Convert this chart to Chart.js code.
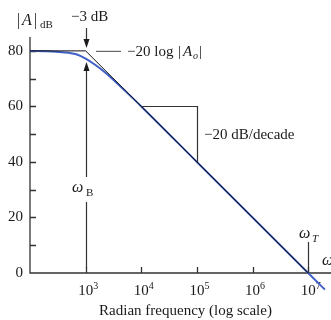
<!DOCTYPE html>
<html><head><meta charset="utf-8">
<script src="https://cdn.jsdelivr.net/npm/chart.js@4.4.1/dist/chart.umd.min.js"></script>
<style>html,body{margin:0;padding:0;background:#fff}canvas{display:block}</style>
</head><body>
<canvas id="c" width="331" height="320"></canvas>
<script>
// Data
const freq   = [100, 200, 300, 500, 700, 1000, 1500, 2000, 3000, 5000, 10000, 100000, 1000000, 10000000, 20000000];
const gainDb = [80, 79.9, 79.7, 79.3, 78.7, 77.2, 74.9, 73.0, 70.0, 65.8, 60.0, 40.0, 20.0, 0, -6];
const asymFreq = [100, 1000, 10000000];
const asymDb   = [80, 80, 0];
const xTickValues = [1e3, 1e4, 1e5, 1e6, 1e7];
const xTickExp    = ['3', '4', '5', '6', '7'];
const yTickValues = [0, 20, 40, 60, 80];
const yMinorTicks = [10, 30, 50, 70];

const SERIF = "'Liberation Serif', 'DejaVu Serif', serif";
const INK = '#1a1a1a';

const annot = {
  id: 'annot',
  beforeDatasetsDraw(chart) {
    const ctx = chart.ctx, xs = chart.scales.x, ys = chart.scales.y, a = chart.chartArea;
    ctx.save();
    ctx.strokeStyle = '#333'; ctx.lineWidth = 1.3;
    ctx.beginPath();
    ctx.moveTo(a.left, a.top); ctx.lineTo(a.left, a.bottom); ctx.lineTo(chart.width, a.bottom);
    ctx.stroke();
    ctx.beginPath();
    [...yTickValues, ...yMinorTicks].forEach(v => {
      const y = Math.round(ys.getPixelForValue(v)) + 0.5;
      if (v === 0) return;
      ctx.moveTo(a.left, y); ctx.lineTo(a.left + 6, y);
    });
    xTickValues.forEach(v => {
      const x = Math.round(xs.getPixelForValue(v)) + 0.5;
      ctx.moveTo(x, a.bottom); ctx.lineTo(x, a.bottom - 6);
    });
    ctx.stroke();
    ctx.fillStyle = INK;
    ctx.font = '15px ' + SERIF;
    ctx.textAlign = 'right'; ctx.textBaseline = 'middle';
    yTickValues.forEach(v => ctx.fillText(String(v), a.left - 7, ys.getPixelForValue(v)));
    ctx.textBaseline = 'alphabetic';
    xTickValues.forEach((v, i) => {
      const x = xs.getPixelForValue(v);
      ctx.font = '15px ' + SERIF; ctx.textAlign = 'center';
      ctx.fillText('10', x, a.bottom + 22);
      ctx.font = '10px ' + SERIF; ctx.textAlign = 'left';
      ctx.fillText(xTickExp[i], x + 7.5, a.bottom + 16);
    });
    ctx.font = '15px ' + SERIF; ctx.textAlign = 'center';
    ctx.fillText('Radian frequency (log scale)', (a.left + chart.width) / 2 + 5, a.bottom + 42);
    ctx.restore();
  },
  afterDatasetsDraw(chart) {
    const ctx = chart.ctx, xs = chart.scales.x, ys = chart.scales.y, a = chart.chartArea;
    const X = v => xs.getPixelForValue(v), Y = v => ys.getPixelForValue(v);
    ctx.save();
    ctx.fillStyle = INK; ctx.strokeStyle = '#333'; ctx.lineWidth = 1.2;
    // |A|dB
    ctx.textAlign = 'left'; ctx.textBaseline = 'alphabetic';
    ctx.font = '16px ' + SERIF; ctx.fillText('|', 17, 25);
    ctx.font = 'italic 16px ' + SERIF; ctx.fillText('A', 22, 25);
    ctx.font = '16px ' + SERIF; ctx.fillText('|', 34, 25);
    ctx.font = '11px ' + SERIF; ctx.fillText('dB', 40, 28);
    // -3 dB
    ctx.font = '15px ' + SERIF; ctx.fillText('\u22123 dB', 71, 21);
    const xb = Math.round(X(1000)) + 0.5;
    // down arrow
    ctx.beginPath(); ctx.moveTo(xb, 28); ctx.lineTo(xb, 42); ctx.stroke();
    ctx.beginPath(); ctx.moveTo(xb, 48); ctx.lineTo(xb - 3, 39); ctx.lineTo(xb + 3, 39); ctx.closePath(); ctx.fill();
    // up arrow + omega B line
    ctx.beginPath(); ctx.moveTo(xb, 68); ctx.lineTo(xb, 177); ctx.moveTo(xb, 202); ctx.lineTo(xb, 268); ctx.stroke();
    ctx.beginPath(); ctx.moveTo(xb, 62); ctx.lineTo(xb - 3, 71); ctx.lineTo(xb + 3, 71); ctx.closePath(); ctx.fill();
    ctx.font = 'italic 16px ' + SERIF; ctx.fillText('\u03C9', 72, 192);
    ctx.font = '11px ' + SERIF; ctx.fillText('B', 86, 196);
    // -20 log |Ao|
    ctx.strokeStyle = '#666';
    ctx.beginPath(); ctx.moveTo(96, Y(80) + 0.5); ctx.lineTo(121, Y(80) + 0.5); ctx.stroke();
    ctx.strokeStyle = '#333';
    ctx.font = '15px ' + SERIF; ctx.fillText('\u221220 log', 127, 56);
    ctx.fillText('|', 178, 56);
    ctx.font = 'italic 15px ' + SERIF; ctx.fillText('A', 183, 56);
    ctx.font = 'italic 10px ' + SERIF; ctx.fillText('o', 193, 59);
    ctx.font = '15px ' + SERIF; ctx.fillText('|', 199, 56);
    // slope triangle
    const y60 = Math.round(Y(60)) + 0.5, x5 = Math.round(X(1e5)) + 0.5;
    ctx.beginPath(); ctx.moveTo(X(1e4), y60); ctx.lineTo(x5, y60); ctx.lineTo(x5, Y(40)); ctx.stroke();
    ctx.font = '15px ' + SERIF; ctx.fillText('\u221220 dB/decade', 204, 139);
    // omega T
    const xt = Math.round(X(1e7)) + 0.5;
    ctx.beginPath(); ctx.moveTo(xt, 242); ctx.lineTo(xt, a.bottom); ctx.stroke();
    ctx.font = 'italic 16px ' + SERIF; ctx.fillText('\u03C9', 299, 238);
    ctx.font = 'italic 11px ' + SERIF; ctx.fillText('T', 312, 242);
    ctx.font = 'italic 16px ' + SERIF; ctx.fillText('\u03C9', 322, 265);
    ctx.restore();
  }
};

new Chart(document.getElementById('c'), {
  type: 'line',
  data: {
    datasets: [
      { data: asymFreq.map((f, i) => ({ x: f, y: asymDb[i] })), borderColor: '#111', borderWidth: 1, pointRadius: 0, tension: 0, clip: false },
      { data: freq.map((f, i) => ({ x: f, y: gainDb[i] })), borderColor: '#3f60c6', borderWidth: 2, pointRadius: 0, cubicInterpolationMode: 'monotone', clip: false }
    ]
  },
  options: {
    responsive: false, animation: false, devicePixelRatio: 1,
    layout: { padding: { left: 30, top: 37, right: 0, bottom: 47 } },
    plugins: { legend: { display: false }, tooltip: { enabled: false } },
    scales: {
      x: { type: 'logarithmic', min: 100, max: Math.pow(10, 7.41), display: false },
      y: { type: 'linear', min: 0, max: 85, display: false }
    }
  },
  plugins: [annot]
});
</script>
</body></html>
